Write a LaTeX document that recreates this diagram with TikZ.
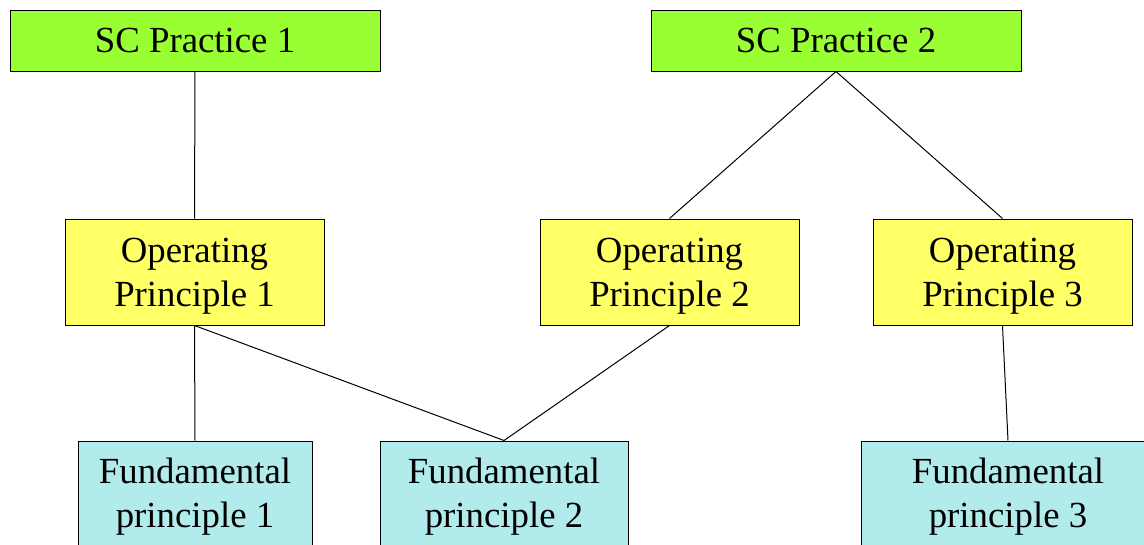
\documentclass[tikz,border=0pt]{standalone}
\usepackage{fontspec}
\setmainfont{Liberation Serif}
\definecolor{scgreen}{RGB}{153,255,51}
\definecolor{opyellow}{RGB}{255,255,102}
\definecolor{fpcyan}{RGB}{178,235,235}
\begin{document}
\begin{tikzpicture}[x=1pt,y=1pt,
  box/.style={draw=black,line width=1pt,rectangle,inner sep=0pt,align=center,
    font=\fontsize{36.8}{44}\selectfont},
  txt/.style={inner sep=0pt,align=center,font=\fontsize{36.8}{44}\selectfont},
  scbox/.style={box,fill=scgreen,minimum width=370pt,minimum height=61pt},
  opbox/.style={box,fill=opyellow,minimum width=259pt,minimum height=106pt},
  fpbox/.style={box,fill=fpcyan,minimum height=106pt},
  link/.style={draw=black,line width=1pt}]
\clip (0,0) rectangle (1144,-544);
\fill[white] (0,0) rectangle (1144,-544);
\node[scbox] (sc1) at (195,-40.5) {SC Practice 1};
\node[scbox] (sc2) at (836,-40.5) {SC Practice 2};
\node[opbox] (op1) at (194.5,-272) {};
\node[opbox] (op2) at (669.5,-272) {};
\node[opbox] (op3) at (1002.5,-272) {};
\node[fpbox,minimum width=234pt] (fp1) at (195,-494) {};
\node[fpbox,minimum width=248pt] (fp2) at (504,-494) {};
\node[fpbox,minimum width=294pt] (fp3) at (1008,-494) {};
\node[txt] (op1t) at ([yshift=-4pt]op1.center) {Operating\\Principle 1};
\node[txt] (op2t) at ([yshift=-4pt]op2.center) {Operating\\Principle 2};
\node[txt] (op3t) at ([yshift=-4pt]op3.center) {Operating\\Principle 3};
\node[txt] (fp1t) at ([yshift=-3pt]fp1.center) {Fundamental\\principle 1};
\node[txt] (fp2t) at ([yshift=-3pt]fp2.center) {Fundamental\\principle 2};
\node[txt] (fp3t) at ([yshift=-3pt]fp3.center) {Fundamental\\principle 3};
\draw[link] (sc1.south) -- (op1.north);
\draw[link] (sc2.south) -- (op2.north);
\draw[link] (sc2.south) -- (op3.north);
\draw[link] (op1.south) -- (fp1.north);
\draw[link] (op1.south) -- (fp2.north);
\draw[link] (op2.south) -- (fp2.north);
\draw[link] (op3.south) -- (fp3.north);
\end{tikzpicture}
\end{document}
